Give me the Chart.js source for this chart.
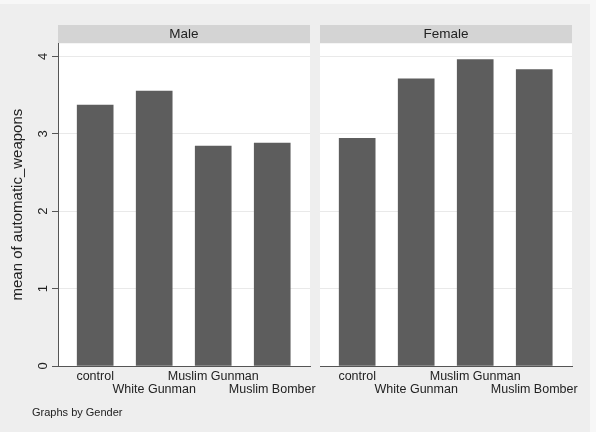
<!DOCTYPE html>
<html>
<head>
<meta charset="utf-8">
<script src="https://cdn.jsdelivr.net/npm/chart.js@4.4.0/dist/chart.umd.min.js"></script>
<style>
	body { margin: 0; width: 596px; height: 432px; background: #f7f7f7; overflow: hidden; font-family: "Liberation Sans", Arial, Helvetica, sans-serif; }
	#graph-region { position: absolute; left: 0; top: 4px; width: 590px; height: 428px; background: #eeeeee; }
	#male-chart { position: absolute; left: 0; top: 0; }
	#female-chart { position: absolute; left: 300px; top: 0; }
	#note { position: absolute; left: 32px; top: 406px; font-size: 11px; color: #222; }
</style>
</head>
<body>
<div id="graph-region"></div>
<canvas id="male-chart" width="330" height="432"></canvas>
<canvas id="female-chart" width="296" height="432"></canvas>
<div id="note">Graphs by Gender</div>
<script>
// categories (x axis)
var categories = ['control', 'White Gunman', 'Muslim Gunman', 'Muslim Bomber'];
// mean of automatic_weapons by gender
var maleValues = [3.37, 3.55, 2.84, 2.88];
var femaleValues = [2.94, 3.71, 3.96, 3.83];
// y axis ticks
var yTicks = [0, 1, 2, 3, 4];
var panelTitles = ['Male', 'Female'];

var maleChart;
var femaleChart;

/**
 * white plot region + grey header strip behind the panel title
 */
var panelPlugin = {
	id : 'panel',
	beforeDraw : function(chart) {
		var ctx = chart.ctx;
		var a = chart.chartArea;
		var t = chart.titleBlock;
		ctx.save();
		ctx.fillStyle = '#ffffff';
		ctx.fillRect(a.left, a.top, a.right - a.left, a.bottom - a.top);
		ctx.fillStyle = '#d4d4d4';
		ctx.fillRect(a.left, t.top, a.right - a.left, t.bottom - t.top);
		ctx.restore();
	}
};

initView();

/**
 * init view
 */
function initView() {
	Chart.defaults.font.family = '"Liberation Sans", Arial, Helvetica, sans-serif';
	Chart.defaults.color = '#222';
	maleChart = createChart('male-chart', panelTitles[0], maleValues, true);
	femaleChart = createChart('female-chart', panelTitles[1], femaleValues, false);
}

/**
 * create one panel
 * @param id canvas id
 * @param title panel title
 * @param values bar values
 * @param showAxis draw the y axis labels and title
 */
function createChart(id, title, values, showAxis) {
	var canvas = document.getElementById(id);

	var data = values.map(function(v, i) {
		return { x : i + 1, y : v };
	});

	return new Chart(canvas, {
		type : 'bar',
		data : {
			datasets : [ {
				data : data,
				backgroundColor : '#5d5d5d',
				borderWidth : 0,
				barThickness : 36,
			} ]
		},
		plugins : [ panelPlugin ],
		options : {
			responsive : false,
			animation : false,
			layout : {
				padding : showAxis ? { left : 0, right : 20, top : 25, bottom : 0 }
						: { left : 20, right : 24, top : 25, bottom : 0 }
			},
			plugins : {
				legend : { display : false },
				tooltip : { enabled : false },
				title : {
					display : true,
					text : title,
					fullSize : false,
					padding : { top : 1, bottom : 1 },
					font : { size : 13.5, weight : 'normal' },
					color : '#222',
				}
			},
			scales : {
				x : {
					type : 'linear',
					offset : false,
					min : 0.37,
					max : 4.64,
					afterBuildTicks : function(scale) {
						scale.ticks = categories.map(function(c, i) {
							return { value : i + 1 };
						});
					},
					afterFit : function(scale) {
						scale.height = 66;
					},
					ticks : {
						autoSkip : false,
						maxRotation : 0,
						padding : 4,
						color : '#222',
						font : { size : 12.5, lineHeight : 1.05 },
						callback : function(v, i) {
							// staggered labels like Stata
							return i % 2 === 0 ? [ categories[i], '' ] : [ '', categories[i] ];
						}
					},
					grid : { display : false, drawTicks : false, offset : false },
					border : { display : true, color : '#555', width : 1 }
				},
				y : {
					min : 0,
					max : 4.17,
					afterBuildTicks : function(scale) {
						scale.ticks = yTicks.map(function(v) {
							return { value : v };
						});
					},
					afterFit : function(scale) {
						scale.width = showAxis ? 58 : 0;
					},
					ticks : {
						display : showAxis,
						minRotation : 90,
						maxRotation : 90,
						crossAlign : 'center',
						padding : 5,
						color : '#222',
						font : { size : 13 },
					},
					grid : {
						color : function(c) {
							return c.tick && c.tick.value === 0 ? 'rgba(0,0,0,0)' : '#e9e9e9';
						},
						drawTicks : showAxis,
						tickColor : '#555',
						tickLength : 6,
					},
					border : { display : showAxis, color : '#555', width : 1 },
					title : {
						display : showAxis,
						text : 'mean of automatic_weapons',
						color : '#222',
						font : { size : 15 },
						padding : { top : 9, bottom : 0 },
					}
				}
			}
		}
	});
}
</script>
</body>
</html>
